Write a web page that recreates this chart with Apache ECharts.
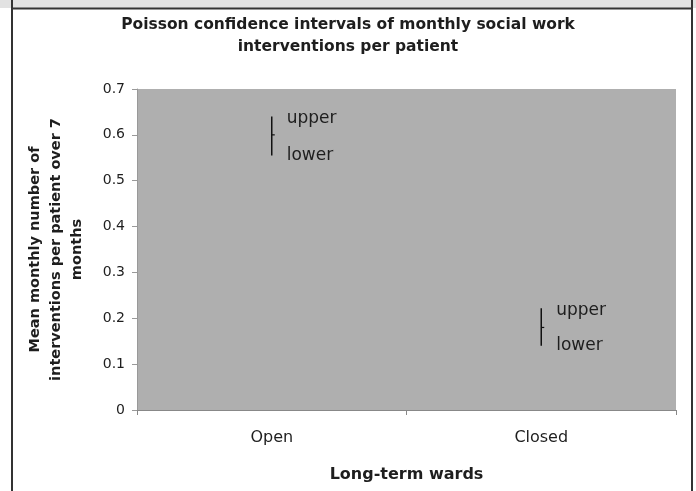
<!DOCTYPE html>
<html>
<head>
<meta charset="utf-8">
<script src="https://cdn.jsdelivr.net/npm/echarts@6/dist/echarts.min.js"></script>
<style>
  html, body { margin: 0; padding: 0; background: #fff; }
  #chart { width: 696px; height: 491px; }
</style>
</head>
<body>
<div id="chart"></div>
<script>
// ward types and their Poisson intervals
const wards = ['Open', 'Closed']
const means = [0.6, 0.18]
const lowers = [0.555, 0.14]
const uppers = [0.64, 0.222]
const endLabels = ['upper', 'lower']
const yTicks = { min: 0, max: 0.7, interval: 0.1 }

const FONT = 'DejaVu Sans'
const INK = '#1e1e1e'

const chart = echarts.init(document.getElementById('chart'), null, { renderer: 'canvas' })

function renderInterval(params, api) {
  const x = api.value(0)
  const top = api.coord([x, api.value(3)])
  const bottom = api.coord([x, api.value(2)])
  const mid = api.coord([x, api.value(1)])
  return {
    type: 'group',
    children: [
      {
        type: 'line',
        shape: { x1: top[0], y1: top[1], x2: bottom[0], y2: bottom[1] },
        style: { stroke: '#111', lineWidth: 1.5 }
      },
      {
        type: 'line',
        shape: { x1: mid[0], y1: mid[1], x2: mid[0] + 3, y2: mid[1] },
        style: { stroke: '#111', lineWidth: 1.2 }
      },
      {
        type: 'text',
        x: top[0] + 15, y: top[1] + 2,
        style: { text: endLabels[0], font: '17px ' + FONT, fill: INK, textVerticalAlign: 'middle' }
      },
      {
        type: 'text',
        x: bottom[0] + 15, y: bottom[1],
        style: { text: endLabels[1], font: '17px ' + FONT, fill: INK, textVerticalAlign: 'middle' }
      }
    ]
  }
}

chart.setOption({
  animation: false,
  textStyle: { fontFamily: FONT },
  title: {
    text: 'Poisson confidence intervals of monthly social work\ninterventions per patient',
    left: 'center',
    top: 9,
    textStyle: { fontSize: 15.5, fontWeight: 'bold', color: INK, lineHeight: 22, fontFamily: FONT }
  },
  graphic: [
    { type: 'rect', shape: { x: 0, y: 0, width: 696, height: 8 }, style: { fill: '#e2e2e2' }, z: -1 },
    { type: 'line', shape: { x1: 11, y1: 8.5, x2: 693, y2: 8.5 }, style: { stroke: '#333', lineWidth: 2 } },
    { type: 'line', shape: { x1: 12, y1: 0, x2: 12, y2: 491 }, style: { stroke: '#333', lineWidth: 2 } },
    { type: 'line', shape: { x1: 692, y1: 0, x2: 692, y2: 491 }, style: { stroke: '#333', lineWidth: 2 } }
  ],
  grid: {
    left: 137, right: 20, top: 89, bottom: 81,
    show: true, backgroundColor: '#afafaf', borderWidth: 0
  },
  xAxis: {
    type: 'category',
    data: wards,
    boundaryGap: true,
    name: 'Long-term wards',
    nameLocation: 'middle',
    nameGap: 57,
    nameTextStyle: { fontSize: 16, fontWeight: 'bold', color: INK },
    axisLine: { lineStyle: { color: '#888' } },
    axisTick: { show: true, length: 5, lineStyle: { color: '#888' } },
    axisLabel: { fontSize: 16, color: INK, margin: 20 }
  },
  yAxis: {
    type: 'value',
    min: yTicks.min, max: yTicks.max, interval: yTicks.interval,
    name: 'Mean monthly number of\ninterventions per patient over 7\nmonths',
    nameLocation: 'middle',
    nameRotate: 90,
    nameGap: 49,
    nameTextStyle: { fontSize: 14.5, fontWeight: 'bold', color: INK, lineHeight: 21, align: 'center' },
    splitLine: { show: false },
    axisLine: { show: true, lineStyle: { color: '#999' } },
    axisTick: { show: true, length: 5, lineStyle: { color: '#999' } },
    axisLabel: { fontSize: 14, color: INK, margin: 12 }
  },
  series: [{
    type: 'custom',
    renderItem: renderInterval,
    encode: { x: 0, y: [1, 2, 3] },
    data: wards.map((w, i) => [i, means[i], lowers[i], uppers[i]])
  }]
})
</script>
</body>
</html>
